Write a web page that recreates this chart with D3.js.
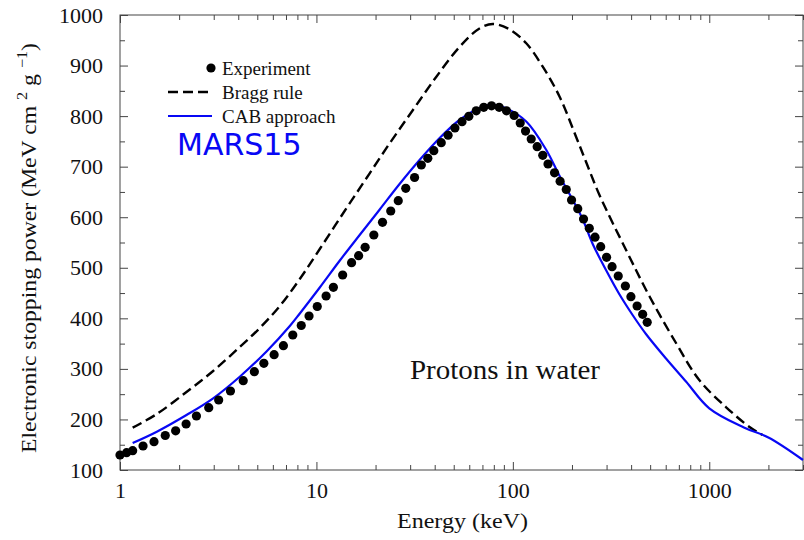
<!DOCTYPE html>
<html>
<head>
<meta charset="utf-8">
<script src="https://cdn.jsdelivr.net/npm/d3@7"></script>
<style>
  html, body { margin: 0; padding: 0; background: #fff; }
  svg { display: block; }
</style>
</head>
<body>
<svg id="chart" width="804" height="540"></svg>
<script>
// ---- Data ----
const expE = [1.00,1.08,1.16,1.31,1.49,1.70,1.92,2.17,2.45,2.83,3.18,3.65,4.24,4.83,5.40,6.09,6.79,7.58,8.37,9.17,10.1,11.2,12.2,13.6,15.1,16.4,17.7,19.6,21.7,23.9,26.1,28.5,31.6,34.2,36.9,39.6,43.2,46.8,50.7,55.1,59.7,65.1,71.1,77.9,85.2,92.8,101.5,109,116,124,133,142,151,163,174,187,199,214,229,245,262,280,300,320,344,374,399,429,458,483];
const expV = [129.7,134.2,138.2,147.5,156.0,168.2,177.5,191.0,206.8,223.2,238.5,256.3,276.6,294.4,311.0,328.1,345.9,367.0,385.8,404.6,423.4,444.2,461.4,485.7,510.0,523.9,540.5,564.8,590.0,612.3,632.7,657.2,678.6,703.3,716.5,731.6,747.4,762.1,776.5,789.0,799.6,810.5,817.4,820.4,817.4,810.5,801.2,786.4,770.5,754.7,739.5,722.5,705.3,687.9,671.2,654.8,634.1,616.9,596.5,578.1,560.5,541.7,520.7,502.1,483.7,464.0,442.8,424.4,408.0,392.2];

const braggE = [1.16,1.54,2.18,2.98,4.07,5.15,6.51,8.23,10.4,13.7,18.0,23.6,31.0,40.7,53.5,67.6,79.0,96.1,117,142,173,210,236,276,377,495,677,889,1215,1596,1865];
const braggV = [183.7,210.8,254.3,295.8,343.3,380.9,424.4,477.8,537.1,608.3,677.6,746.2,812.1,877.4,936.7,973.3,982.2,971.7,944.0,897.7,838.4,758.7,709.2,644.0,535.2,444.2,351.2,278.0,224.6,185.6,169.2];

const cabE = [1.16,1.54,2.18,2.98,4.07,5.57,7.32,8.23,10.4,13.1,16.6,21.0,26.5,33.5,42.4,53.5,67.6,77.6,92.5,117,148,173,224,255,298,348,407,476,602,761,1000,1500,2000,3000];
const cabV = [153.4,175.8,208.8,241.8,284.5,334.4,384.8,409.6,461.0,513.4,564.8,615.3,665.7,713.2,756.7,792.3,816.0,823.0,815.4,789.3,733.0,681.5,600.4,547.0,495.6,448.1,406.6,369.0,320.5,275.1,222.0,184.1,164.3,119.8];

const xMajorTicks = [1, 10, 100, 1000];
const xMinorTicks = [2,3,4,5,6,7,8,9,20,30,40,50,60,70,80,90,200,300,400,500,600,700,800,900,2000,3000];
const yMajorTicks = [100,200,300,400,500,600,700,800,900,1000];
const yMinorTicks = [150,250,350,450,550,650,750,850,950];

const legendLabels = ["Experiment", "Bragg rule", "CAB approach"];
const xTitle = "Energy (keV)";
const annotation = "Protons in water";
const codeLabel = "MARS15";

// ---- Layout ----
const serif = "'Liberation Serif', 'Times New Roman', serif";
const svg = d3.select("#chart");
const mLeft = 120, mRight = 803, mTop = 15, mBottom = 470;
const x = d3.scaleLog().domain([1, 3000]).range([mLeft, mRight]);
const y = d3.scaleLinear().domain([100, 1000]).range([mBottom, mTop]);
const axisColor = "#444";
const blue = "#0808f4";

// ---- Axes (ticks pointing inward) ----
function styleAxis(g) {
  g.select(".domain").remove();
  g.selectAll(".tick line").attr("stroke", axisColor).attr("stroke-width", 1);
  g.selectAll(".tick text").style("font-size", "22px").style("fill", "#111")
    .style("font-family", serif);
}
// bottom
svg.append("g").attr("transform", `translate(0,${mBottom})`)
  .call(d3.axisBottom(x).tickValues(xMajorTicks).tickFormat(d3.format("d")).tickSize(-8).tickSizeOuter(0).tickPadding(12))
  .call(styleAxis);
svg.append("g").attr("transform", `translate(0,${mBottom})`)
  .call(d3.axisBottom(x).tickValues(xMinorTicks).tickFormat("").tickSize(-5).tickSizeOuter(0))
  .call(styleAxis);
// top
svg.append("g").attr("transform", `translate(0,${mTop})`)
  .call(d3.axisTop(x).tickValues(xMajorTicks).tickFormat("").tickSize(-8).tickSizeOuter(0))
  .call(styleAxis);
svg.append("g").attr("transform", `translate(0,${mTop})`)
  .call(d3.axisTop(x).tickValues(xMinorTicks).tickFormat("").tickSize(-5).tickSizeOuter(0))
  .call(styleAxis);
// left
svg.append("g").attr("transform", `translate(${mLeft},0)`)
  .call(d3.axisLeft(y).tickValues(yMajorTicks).tickFormat(d3.format("d")).tickSize(-8).tickSizeOuter(0).tickPadding(17))
  .call(styleAxis);
svg.append("g").attr("transform", `translate(${mLeft},0)`)
  .call(d3.axisLeft(y).tickValues(yMinorTicks).tickFormat("").tickSize(-5).tickSizeOuter(0))
  .call(styleAxis);
// right
svg.append("g").attr("transform", `translate(${mRight},0)`)
  .call(d3.axisRight(y).tickValues(yMajorTicks).tickFormat("").tickSize(-8).tickSizeOuter(0))
  .call(styleAxis);
svg.append("g").attr("transform", `translate(${mRight},0)`)
  .call(d3.axisRight(y).tickValues(yMinorTicks).tickFormat("").tickSize(-5).tickSizeOuter(0))
  .call(styleAxis);

// frame
svg.append("rect").attr("x", mLeft).attr("y", mTop)
  .attr("width", mRight - mLeft).attr("height", mBottom - mTop)
  .attr("fill", "none").attr("stroke", axisColor).attr("stroke-width", 1);

// ---- Series ----
const plot = svg.append("g");
const line = d3.line().x(d => x(d[0])).y(d => y(d[1])).curve(d3.curveCatmullRom.alpha(0.5));

plot.append("path")
  .datum(braggE.map((e, i) => [e, braggV[i]]))
  .attr("d", line).attr("fill", "none").attr("stroke", "#000")
  .attr("stroke-width", 2.4).attr("stroke-dasharray", "10,5");

plot.append("path")
  .datum(cabE.map((e, i) => [e, cabV[i]]))
  .attr("d", line).attr("fill", "none").attr("stroke", blue)
  .attr("stroke-width", 2.2);

plot.selectAll("circle.exp")
  .data(expE.map((e, i) => [e, expV[i]]))
  .join("circle").attr("class", "exp")
  .attr("cx", d => x(d[0])).attr("cy", d => y(d[1]))
  .attr("r", 4.6).attr("fill", "#000");

// ---- Legend ----
const leg = svg.append("g");
leg.append("circle").attr("cx", 211).attr("cy", 68).attr("r", 4.6).attr("fill", "#000");
leg.append("line").attr("x1", 168).attr("x2", 212).attr("y1", 92).attr("y2", 92)
  .attr("stroke", "#000").attr("stroke-width", 2.4).attr("stroke-dasharray", "10,5");
leg.append("line").attr("x1", 168).attr("x2", 212).attr("y1", 116).attr("y2", 116)
  .attr("stroke", blue).attr("stroke-width", 2.2);
leg.selectAll("text.leg").data(legendLabels).join("text").attr("class", "leg")
  .attr("x", 222).attr("y", (d, i) => 75 + i * 24)
  .style("font-family", serif).style("font-size", "19px").style("fill", "#111")
  .text(d => d);

svg.append("text").attr("x", 177).attr("y", 155)
  .style("font-family", "'DejaVu Sans', sans-serif").style("font-size", "30px")
  .style("fill", blue).text(codeLabel);

// ---- Annotation ----
svg.append("text").attr("x", 410).attr("y", 379)
  .style("font-family", serif).style("font-size", "27px").style("fill", "#111")
  .attr("textLength", 190).attr("lengthAdjust", "spacingAndGlyphs")
  .text(annotation);

// ---- Axis titles ----
svg.append("text").attr("x", 397).attr("y", 528)
  .style("font-family", serif).style("font-size", "22px").style("fill", "#111")
  .attr("textLength", 131).attr("lengthAdjust", "spacingAndGlyphs")
  .text(xTitle);

const yt = svg.append("text").attr("transform", "translate(36,453) rotate(-90)")
  .style("font-family", serif).style("font-size", "22px").style("fill", "#111")
  .attr("textLength", 410).attr("lengthAdjust", "spacingAndGlyphs");
yt.append("tspan").text("Electronic stopping power (MeV cm ");
yt.append("tspan").style("font-size", "15px").attr("dy", -9).text("2");
yt.append("tspan").attr("dy", 9).text(" g ");
yt.append("tspan").style("font-size", "15px").attr("dy", -9).text("\u22121");
yt.append("tspan").attr("dy", 9).text(")");
</script>
</body>
</html>
